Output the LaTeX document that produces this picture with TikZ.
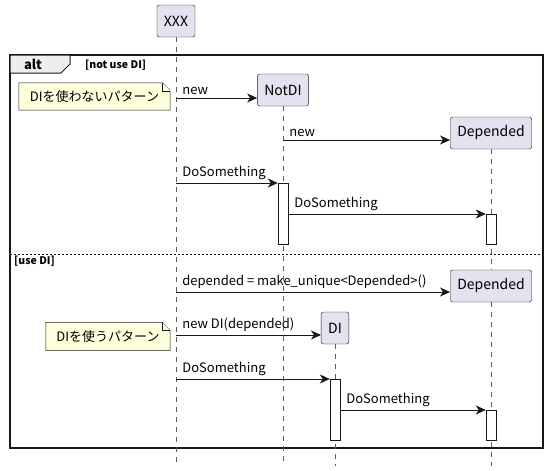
\documentclass[tikz,border=0pt]{standalone}
\usepackage{fontspec}
\setmainfont{Noto Sans CJK JP}
\usetikzlibrary{arrows.meta,positioning}
\definecolor{partfill}{HTML}{E2E2F0}
\definecolor{notefill}{HTML}{FEFFDD}
\definecolor{tabfill}{HTML}{EEEEEE}
\definecolor{linegray}{HTML}{181818}
\begin{document}
\begin{tikzpicture}
        [x=1pt,y=-1pt,
        partdecorate/.style={shape=rectangle,rounded corners=2.5pt,draw=linegray,fill=partfill,minimum height=32pt,inner xsep=7pt,font=\fontsize{14}{16}\selectfont},%
        actdecorate/.style={shape=rectangle,draw=linegray,fill=white,minimum width=10pt,inner sep=0pt,anchor=north},%
        arrowdecorate/.style={-{Stealth[length=10pt,width=9pt,inset=3pt]},draw=linegray,line width=0.8pt},%
        lifedecorate/.style={draw=linegray!70,line width=0.6pt,dash pattern=on 5pt off 5pt},%
        labeldecorate/.style={anchor=south west,inner sep=1pt,xshift=5pt,yshift=2pt,font=\fontsize{13}{15}\selectfont},%
        notedecorate/.style={draw=linegray,fill=notefill,line width=0.5pt},%
        guarddecorate/.style={anchor=west,inner sep=0pt,font=\fontsize{10.5}{13}\selectfont\bfseries}]
        \useasboundingbox (0,0) rectangle (549,471);
        %% alt frame
        \draw[linegray,line width=1.5pt] (10,55) rectangle (543,448);
        \draw[linegray,fill=tabfill,line width=1pt] (10,55) -- (70,55) -- (70,64) -- (61,73) -- (10,73) -- cycle;
        \node (alttab) at (33,64.5) [inner sep=0pt,font=\fontsize{13}{15}\selectfont\bfseries] {alt};
        \node (guarda) at (85,65) [guarddecorate] {[not use DI]};
        \draw[linegray,line width=0.8pt,dash pattern=on 2pt off 2pt] (10,254) -- (543,254);
        \node (guardb) at (14,261) [guarddecorate] {[use DI]};
        %% end points of lifelines
        \foreach \nodename/\x in {xxxend/176, notdiend/283, dependedend/491, diend/335}
        {
          \coordinate (\nodename) at (\x,466);
        }
        %% participants
        \foreach \nodename/\x/\y/\text in {xxx/176/21/XXX, notdi/283/90/NotDI,
          depa/491/133/Depended, depb/491/286/Depended, di/335/328/DI}
        {
          \node (\nodename) at (\x,\y) [partdecorate] {\text};
        }
        %% lifelines
        \path
        \foreach \startnode/\endnode in {xxx.south/xxxend, notdi.south/notdiend, depa.south/depb.north,
          depb.south/dependedend, di.south/diend}
        {
          (\startnode) edge[lifedecorate] (\endnode)
        };
        %% activations
        \foreach \nodename/\x/\y/\h in {acta/283/183/61, actb/491/214/30, actc/335/379/61, actd/491/410/30}
        {
          \node (\nodename) at (\x,\y) [actdecorate,minimum height=\h pt] {};
        }
        %% notes
        \node (notea) at (94.5,96.5) [minimum width=151pt,minimum height=27pt,inner sep=0pt] {};
        \node (noteb) at (108,336.5) [minimum width=124pt,minimum height=28pt,inner sep=0pt] {};
        \foreach \nodename/\text in {notea/DIを使わないパターン, noteb/DIを使うパターン}
        {
          \draw[notedecorate] (\nodename.north west) -- ([xshift=-8pt]\nodename.north east)
            -- ([yshift=-8pt]\nodename.north east) -- (\nodename.south east)
            -- (\nodename.south west) -- cycle;
          \draw[notedecorate] ([xshift=-8pt]\nodename.north east) -- ([xshift=-8pt,yshift=-8pt]\nodename.north east)
            -- ([yshift=-8pt]\nodename.north east);
          \node at (\nodename) [font=\fontsize{13}{15}\selectfont] {\text};
        }
        %% messages
        \coordinate (sa) at (176,98);
        \coordinate (sb) at (283,140);
        \coordinate (sc) at (176,183);
        \coordinate (sd) at (288,214);
        \coordinate (se) at (176,292);
        \coordinate (sf) at (176,335);
        \coordinate (sg) at (176,379);
        \coordinate (sh) at (340,410);
        \draw[arrowdecorate] (sa) -- (sa -| notdi.west) node[labeldecorate,at start] {new};
        \draw[arrowdecorate] (sb) -- (sb -| depa.west) node[labeldecorate,at start] {new};
        \draw[arrowdecorate] (sc) -- (acta.north west) node[labeldecorate,at start] {DoSomething};
        \draw[arrowdecorate] (sd) -- (actb.north west) node[labeldecorate,at start] {DoSomething};
        \draw[arrowdecorate] (se) -- (se -| depb.west) node[labeldecorate,at start] {depended = make\_unique<Depended>()};
        \draw[arrowdecorate] (sf) -- (sf -| di.west) node[labeldecorate,at start] {new DI(depended)};
        \draw[arrowdecorate] (sg) -- (actc.north west) node[labeldecorate,at start] {DoSomething};
        \draw[arrowdecorate] (sh) -- (actd.north west) node[labeldecorate,at start] {DoSomething};
      \end{tikzpicture}
\end{document}
